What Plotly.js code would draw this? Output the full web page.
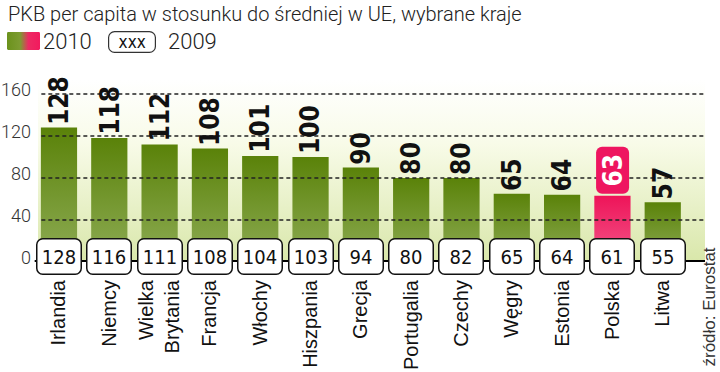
<!DOCTYPE html>
<html>
<head>
<meta charset="utf-8">
<script src="https://cdn.plot.ly/plotly-3.0.1.min.js"></script>
<style>html,body{margin:0;padding:0;background:#fff;}#chart{width:720px;height:372px;}</style>
</head>
<body>
<div id="chart"></div>
<script>
// ---- data ----
const categories = ['Irlandia','Niemcy','Wielka<br>Brytania','Francja','Włochy','Hiszpania','Grecja','Portugalia','Czechy','Węgry','Estonia','Polska','Litwa'];
const values2010 = [128,118,112,108,101,100,90,80,80,65,64,63,57];
const values2009 = [128,116,111,108,104,103,94,80,82,65,64,61,55];
const yTicks = [0,40,80,120,160];
const highlighted = 'Polska';
const titleText = 'PKB per capita w stosunku do średniej w UE, wybrane kraje';
const legend2010 = '2010';
const legendBox = 'xxx';
const legend2009 = '2009';
const sourceText = 'źródło: Eurostat';

// ---- layout geometry ----
const W = 720, H = 372;
const M = {l: 38, r: 15, t: 80, b: 110};
const PW = W - M.l - M.r, PH = H - M.t - M.b;
const px = x => (x - M.l) / PW;
const py = y => (H - M.b - y) / PH;

const GREEN = '#5f8a12', PINK = '#ee1560';
const barColors = categories.map(c => c === highlighted ? PINK : GREEN);

const condBold = 'Liberation Sans Narrow, DejaVu Sans Condensed, Arial Narrow, sans-serif';
const condReg = 'DejaVu Sans Condensed, Liberation Sans Narrow, sans-serif';
const sans = 'Liberation Sans, Arial, sans-serif';
const light = 'Roboto, Liberation Sans, sans-serif';

function svgData(s){ return 'data:image/svg+xml;utf8,' + encodeURIComponent(s); }
const bgSvg = '<svg xmlns="http://www.w3.org/2000/svg" width="100" height="100" viewBox="0 0 100 100" preserveAspectRatio="none"><defs><linearGradient id="g" x1="0" y1="0" x2="0" y2="1"><stop offset="0" stop-color="#ffffff"/><stop offset="0.35" stop-color="#f8fbe8"/><stop offset="1" stop-color="#d9e7aa"/></linearGradient></defs><rect width="100" height="100" fill="url(#g)"/></svg>';
const swSvg = '<svg xmlns="http://www.w3.org/2000/svg" width="100" height="50" viewBox="0 0 100 50" preserveAspectRatio="none"><defs><linearGradient id="h" x1="0" y1="0" x2="1" y2="0"><stop offset="0" stop-color="#6b921c"/><stop offset="0.4" stop-color="#7d9c32"/><stop offset="0.65" stop-color="#ec2a63"/><stop offset="1" stop-color="#f21a5e"/></linearGradient></defs><rect width="100" height="50" rx="4" fill="url(#h)"/></svg>';

const annotations = [];
// 2010 values above bars
categories.forEach((c, i) => {
  const hi = c === highlighted;
  const a = {
    x: c, y: values2010[i], xref: 'x', yref: 'y',
    text: String(values2010[i]), showarrow: false,
    textangle: -90, xanchor: 'center', yanchor: 'bottom', yshift: hi ? 2 : 1,
    font: {family: condBold, size: 26, weight: 'bold', color: hi ? '#ffffff' : '#111111'}
  };
  if (hi) { a.bgcolor = PINK; a.borderpad = 3; a.width = 40; a.height = 26; }
  annotations.push(a);
});
// 2009 values in boxes on the baseline
categories.forEach((c, i) => {
  annotations.push({
    x: c, y: 0, xref: 'x', yref: 'y', yshift: 6,
    text: String(values2009[i]), showarrow: false,
    xanchor: 'center', yanchor: 'middle',
    width: 41, height: 32, borderpad: 1,
    bgcolor: '#ffffff', bordercolor: '#111111', borderwidth: 1.5,
    font: {family: condReg, size: 20, color: '#111111'}
  });
});
// title & legend
annotations.push({xref:'paper', yref:'paper', x: px(6), y: py(14), xanchor:'left', yanchor:'middle', showarrow:false,
  text: titleText, font:{family: light, size: 20, weight: 300, color:'#222222'}});
annotations.push({xref:'paper', yref:'paper', x: px(41), y: py(41), xanchor:'left', yanchor:'middle', showarrow:false,
  text: legend2010, font:{family: light, size: 22, weight: 300, color:'#222222'}});
annotations.push({xref:'paper', yref:'paper', x: px(132), y: py(42), xanchor:'center', yanchor:'middle', showarrow:false,
  text: legendBox, width: 44, height: 18, borderpad: 1, bgcolor:'#ffffff', bordercolor:'#333333', borderwidth: 1.2,
  font:{family: condReg, size: 17, color:'#111111'}});
annotations.push({xref:'paper', yref:'paper', x: px(166), y: py(41), xanchor:'left', yanchor:'middle', showarrow:false,
  text: legend2009, font:{family: light, size: 22, weight: 300, color:'#222222'}});
// source
annotations.push({xref:'paper', yref:'paper', x: px(709), y: py(369), xanchor:'center', yanchor:'bottom', showarrow:false,
  textangle: -90, text: sourceText, font:{family: sans, size: 17, color:'#333333'}});

const shapes = [];
yTicks.filter(v => v > 0).forEach(v => {
  shapes.push({type:'line', xref:'paper', yref:'y', x0: 0.005, x1: 1, y0: v, y1: v, layer:'above',
    line:{color:'#222222', width:1.5, dash:'4px,3px'}});
});
shapes.push({type:'line', xref:'paper', yref:'y', x0: -0.005, x1: 1, y0: 0, y1: 0, layer:'above',
  line:{color:'#000000', width:4}});

const trace = {
  type: 'bar', x: categories, y: values2010,
  marker: {color: barColors, line: {width: 0}},
  hoverinfo: 'none'
};

const layout = {
  width: W, height: H, margin: M,
  paper_bgcolor: '#ffffff', plot_bgcolor: 'rgba(0,0,0,0)',
  showlegend: false, bargap: 0.28,
  xaxis: {type:'category', range:[-0.417, 12.84], showgrid:false, zeroline:false, showline:false, ticks:'',
    tickangle: -90, tickfont:{family: sans, size: 20, color:'#111111'}, ticklabelstandoff: 13, fixedrange:true},
  yaxis: {range:[0, 173.3], tickvals: yTicks, ticktext: yTicks.map(String), showgrid:false, zeroline:false, showline:false,
    ticks:'', ticklabelstandoff: 6, ticklabelshift: -4, tickfont:{family: light, size: 18, weight: 300, color:'#333333'}, fixedrange:true},
  images: [
    {source: svgData(bgSvg), xref:'paper', yref:'paper', x:0, y:1, sizex:1, sizey:1, xanchor:'left', yanchor:'top', sizing:'stretch', layer:'below'},
    {source: svgData(swSvg), xref:'paper', yref:'paper', x: px(7), y: py(32), sizex: 33/PW, sizey: 18/PH, xanchor:'left', yanchor:'top', sizing:'stretch', layer:'above'}
  ],
  annotations: annotations,
  shapes: shapes
};

Plotly.newPlot('chart', [trace], layout, {staticPlot: true}).then(gd => {
  const svg = gd.querySelector('.main-svg');
  const ns = 'http://www.w3.org/2000/svg';
  let defs = svg.querySelector('defs');
  function grad(id, top, bottom){
    const g = document.createElementNS(ns, 'linearGradient');
    g.setAttribute('id', id); g.setAttribute('x1','0'); g.setAttribute('y1','0'); g.setAttribute('x2','0'); g.setAttribute('y2','1');
    [[0, top],[1, bottom]].forEach(([o,c]) => {
      const s = document.createElementNS(ns, 'stop'); s.setAttribute('offset', o); s.setAttribute('stop-color', c); g.appendChild(s);
    });
    defs.appendChild(g);
  }
  grad('gradGreen', '#5a8209', '#8eac55');
  grad('gradPink', '#ee1459', '#f2588a');
  gd.querySelectorAll('.barlayer .point path').forEach((p, i) => {
    p.style.fill = barColors[i] === PINK ? 'url(#gradPink)' : 'url(#gradGreen)';
  });
  gd.querySelectorAll('.annotation rect.bg').forEach(r => { r.setAttribute('rx', 6); r.setAttribute('ry', 6); });
});
</script>
</body>
</html>
